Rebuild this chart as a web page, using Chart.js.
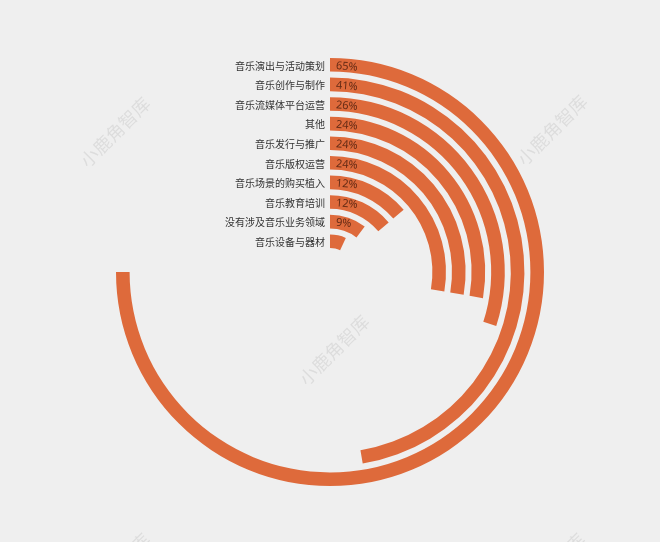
<!DOCTYPE html>
<html>
<head>
<meta charset="utf-8">
<script src="https://cdn.jsdelivr.net/npm/chart.js@4"></script>
<style>
  html, body { margin: 0; padding: 0; background: #efefef; }
  #wrap { width: 660px; height: 542px; position: relative; }
</style>
</head>
<body>
<div id="wrap"><canvas id="chart"></canvas></div>
<script>
/* 音乐业务领域分布 — 同心圆环条形图 */

const categories = [
  '音乐演出与活动策划', '音乐创作与制作', '音乐流媒体平台运营', '其他',
  '音乐发行与推广', '音乐版权运营', '音乐场景的购买植入', '音乐教育培训',
  '没有涉及音乐业务领域', '音乐设备与器材'
];
const values = [65, 41, 26, 24, 24, 24, 12, 12, 9, 6];
const valueLabels = ['65%', '41%', '26%', '24%', '24%', '24%', '12%', '12%', '9%', ''];

const ORANGE = '#de6a3b';
const EMPTY = 'rgba(0,0,0,0)';
const maxValue = Math.max(...values);   // 最大值占满 270°

// 圆环 + 间隔 (间隔用透明数据集)
const datasets = [];
values.forEach((v, i) => {
  if (i > 0) {
    datasets.push({ data: [1], backgroundColor: [EMPTY], weight: 6, spacer: true });
  }
  datasets.push({
    data: [v, maxValue - v],
    backgroundColor: [ORANGE, EMPTY],
    weight: 13.6,
    ringIndex: i,
  });
});

/* 水印 + 文字标签 */
const labelPlugin = {
  id: 'ringLabels',
  beforeDraw(chart) {
    const ctx = chart.ctx;
    ctx.save();
    ctx.fillStyle = 'rgba(0,0,0,0.08)';
    ctx.font = '18px "Noto Sans CJK SC"';
    ctx.textAlign = 'center';
    ctx.textBaseline = 'middle';
    [[115, 132], [552, 130], [334, 350], [115, 568], [550, 568]].forEach(([x, y]) => {
      ctx.save();
      ctx.translate(x, y);
      ctx.rotate(-Math.PI / 4);
      ctx.fillText('小鹿角智库', 0, 0);
      ctx.restore();
    });
    ctx.restore();
  },
  afterDatasetsDraw(chart) {
    const ctx = chart.ctx;
    ctx.save();
    chart.data.datasets.forEach((ds, di) => {
      if (ds.spacer) return;
      const arc = chart.getDatasetMeta(di).data[0];
      const r = (arc.innerRadius + arc.outerRadius) / 2;
      const y = arc.y - r;
      const i = ds.ringIndex;

      ctx.fillStyle = '#333';
      ctx.font = '10px "Noto Sans CJK SC"';
      ctx.textAlign = 'right';
      ctx.textBaseline = 'middle';
      ctx.fillText(categories[i], arc.x - 5, y + 1);

      if (valueLabels[i]) {
        ctx.save();
        ctx.translate(arc.x + 6, y);
        ctx.rotate(0.08);
        ctx.fillStyle = 'rgba(80,32,14,0.85)';
        ctx.font = '11px "Noto Sans"';
        ctx.textAlign = 'left';
        ctx.fillText(valueLabels[i], 0, 1);
        ctx.restore();
      }
    });
    ctx.restore();
  }
};

new Chart(document.getElementById('chart'), {
  type: 'doughnut',
  data: { labels: ['value', 'rest'], datasets: datasets },
  options: {
    responsive: true,
    maintainAspectRatio: false,
    animation: false,
    events: [],
    rotation: 0,
    circumference: 270,
    cutout: '11.2%',
    borderWidth: 0,
    layout: { padding: { top: 58, bottom: 56, left: 0, right: 0 } },
    plugins: {
      legend: { display: false },
      tooltip: { enabled: false },
    },
    elements: { arc: { borderWidth: 0 } },
  },
  plugins: [labelPlugin],
});
</script>
</body>
</html>
